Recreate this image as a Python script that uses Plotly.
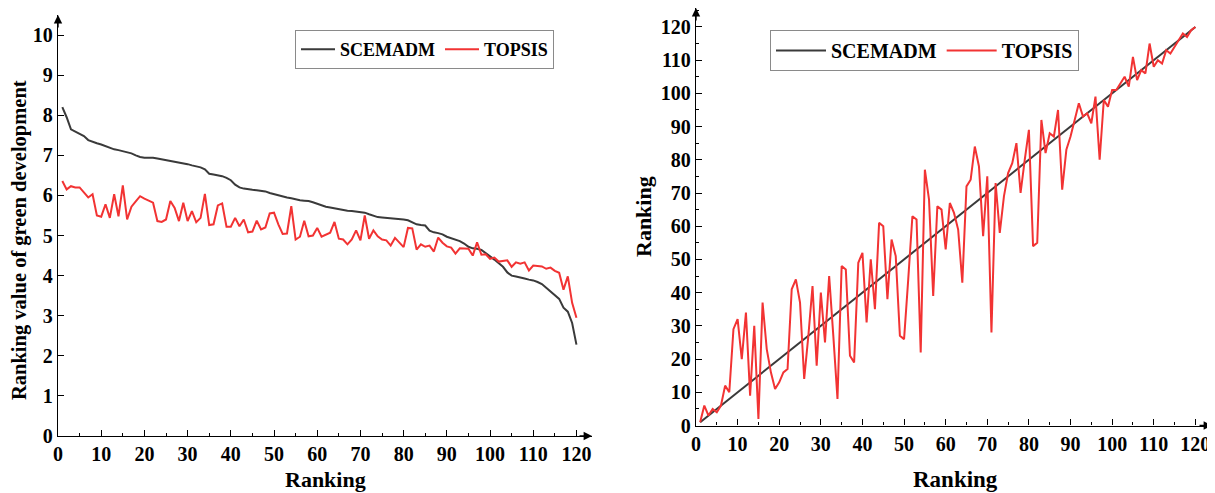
import plotly.graph_objects as go

rank = list(range(1, 121))

scemadm_value = [8.2, 7.95, 7.65, 7.6, 7.55, 7.48, 7.38, 7.33, 7.3, 7.27,
                 7.23, 7.18, 7.15, 7.13, 7.1, 7.08, 7.05, 7.0, 6.96, 6.94,
                 6.94, 6.94, 6.92, 6.9, 6.89, 6.87, 6.85, 6.83, 6.8, 6.78,
                 6.75, 6.72, 6.7, 6.65, 6.54, 6.52, 6.5, 6.48, 6.44, 6.38,
                 6.27, 6.2, 6.17, 6.15, 6.14, 6.13, 6.12, 6.1, 6.06, 6.03,
                 6.0, 5.98, 5.95, 5.93, 5.9, 5.88, 5.87, 5.86, 5.83, 5.79,
                 5.75, 5.72, 5.7, 5.68, 5.65, 5.64, 5.62, 5.61, 5.6, 5.58,
                 5.57, 5.53, 5.49, 5.46, 5.45, 5.44, 5.44, 5.43, 5.42, 5.4,
                 5.38, 5.33, 5.28, 5.26, 5.25, 5.12, 5.08, 5.06, 5.03, 4.97,
                 4.93, 4.9, 4.86, 4.8, 4.72, 4.68, 4.67, 4.64, 4.57, 4.48,
                 4.4, 4.32, 4.22, 4.08, 4.0, 3.98, 3.96, 3.93, 3.9, 3.88,
                 3.84, 3.79, 3.7, 3.6, 3.5, 3.42, 3.2, 3.1, 2.82, 2.28]

topsis_value = [6.36, 6.15, 6.23, 6.2, 6.2, 6.07, 5.95, 6.03, 5.5, 5.47,
                5.78, 5.44, 6.03, 5.48, 6.25, 5.4, 5.72, 5.85, 5.98, 5.92,
                5.87, 5.82, 5.36, 5.34, 5.4, 5.86, 5.69, 5.36, 5.82, 5.36,
                5.61, 5.33, 5.44, 6.04, 5.26, 5.28, 5.75, 5.8, 5.22, 5.22,
                5.44, 5.23, 5.4, 5.08, 5.1, 5.37, 5.15, 5.2, 5.55, 5.57,
                5.28, 5.04, 5.05, 5.73, 4.9, 4.97, 5.37, 4.98, 5.0, 5.19,
                4.97, 5.02, 5.07, 5.34, 4.92, 4.9, 4.78, 4.9, 5.13, 4.88,
                5.5, 4.92, 5.13, 4.98, 4.9, 4.88, 4.75, 4.94, 4.82, 4.71,
                5.19, 5.18, 4.65, 4.78, 4.72, 4.75, 4.6, 4.95, 4.82, 4.73,
                4.7, 4.55, 4.68, 4.67, 4.67, 4.5, 4.83, 4.52, 4.53, 4.42,
                4.45, 4.35, 4.37, 4.38, 4.22, 4.33, 4.3, 4.33, 4.13, 4.25,
                4.24, 4.23, 4.17, 4.2, 4.12, 4.07, 3.65, 3.98, 3.32, 2.95]

scemadm_rank = list(range(1, 121))

topsis_rank = [1, 6, 3, 5, 4, 6, 12, 10, 29, 32,
               20, 34, 9, 30, 2, 37, 23, 16, 11, 13,
               16, 17, 41, 44, 37, 14, 27, 42, 18, 40,
               25, 45, 27, 8, 48, 47, 21, 19, 49, 52,
               31, 50, 35, 61, 60, 38, 56, 51, 27, 26,
               44, 63, 62, 22, 77, 68, 39, 66, 65, 53,
               67, 64, 59, 43, 72, 74, 84, 78, 57, 75,
               28, 73, 58, 69, 76, 79, 85, 70, 80, 89,
               54, 55, 92, 82, 88, 87, 95, 71, 83, 87,
               92, 97, 93, 94, 91, 99, 80, 98, 96, 101,
               101, 103, 105, 102, 111, 104, 107, 106, 115, 108,
               110, 109, 113, 112, 114, 116, 118, 117, 119, 120]

FONT = "Liberation Serif"
BLACK_LINE = "#3a3a3a"
RED_LINE = "#f23333"

fig = go.Figure()

fig.add_trace(go.Scatter(x=rank, y=scemadm_value, mode="lines", name="SCEMADM",
                         line=dict(color=BLACK_LINE, width=2), xaxis="x", yaxis="y",
                         legend="legend"))
fig.add_trace(go.Scatter(x=rank, y=topsis_value, mode="lines", name="TOPSIS",
                         line=dict(color=RED_LINE, width=2), xaxis="x", yaxis="y",
                         legend="legend"))
fig.add_trace(go.Scatter(x=rank, y=scemadm_rank, mode="lines", name="SCEMADM",
                         line=dict(color=BLACK_LINE, width=2), xaxis="x2", yaxis="y2",
                         legend="legend2"))
fig.add_trace(go.Scatter(x=rank, y=topsis_rank, mode="lines", name="TOPSIS",
                         line=dict(color=RED_LINE, width=2), xaxis="x2", yaxis="y2",
                         legend="legend2"))

tickfont = dict(family=FONT, size=20, color="black", weight="bold")
axis_common = dict(showline=True, linecolor="black", linewidth=1.4, ticks="inside",
                   ticklen=6, tickwidth=1.4, tickcolor="black", showgrid=False,
                   zeroline=False, tickfont=tickfont, automargin=False)

# the page body has an 8px margin: figure occupies page pixels 8..1215 x 8..493
W, H = 1207, 485
def px_x(p):
    return min(1.0, max(0.0, (p - 8) / W))
def px_y(p):
    return min(1.0, max(0.0, (493 - p) / H))

minor5 = dict(ticks="inside", ticklen=3, dtick=5, tickcolor="black", tickwidth=1.2)

fig.update_layout(
    width=W, height=H, autosize=False,
    margin=dict(l=0, r=0, t=0, b=0),
    paper_bgcolor="white", plot_bgcolor="white",
    xaxis=dict(domain=[px_x(58), px_x(592)], range=[0, 123.6], dtick=10, tick0=0,
               anchor="y", minor=minor5, **axis_common),
    yaxis=dict(domain=[px_y(436), px_y(15)], range=[0, 10.5], dtick=1, tick0=0,
               anchor="x", **axis_common),
    xaxis2=dict(domain=[px_x(696), px_x(1212)], range=[0, 124], dtick=10, tick0=0,
                anchor="y2", minor=minor5, **axis_common),
    yaxis2=dict(domain=[px_y(425.5), px_y(8)], range=[0, 125.7], dtick=10, tick0=0,
                anchor="x2", minor=minor5, **axis_common),
    legend=dict(x=px_x(295), y=px_y(30), xanchor="left", yanchor="top", orientation="h",
                bordercolor="#8a8a8a", borderwidth=1, bgcolor="white",
                font=dict(family=FONT, size=18, color="black", weight="bold"),
                tracegroupgap=0, itemwidth=34),
    legend2=dict(x=px_x(770), y=px_y(30), xanchor="left", yanchor="top", orientation="h",
                 bordercolor="#8a8a8a", borderwidth=1, bgcolor="white",
                 font=dict(family=FONT, size=20, color="black", weight="bold"),
                 tracegroupgap=0, itemwidth=50),
    showlegend=True,
)

title_font = dict(family=FONT, size=22, color="black", weight="bold")
def title(text, x, y, size, angle=0):
    return dict(text=text, x=px_x(x), y=px_y(y), xref="paper", yref="paper",
                xanchor="center", yanchor="middle", showarrow=False, textangle=angle,
                font=dict(title_font, size=size))

annotations = [
    title("Ranking value of green development", 20, 240, 20.5, -90),
    title("Ranking", 325, 479, 22),
    title("Ranking", 643, 217, 22, -90),
    title("Ranking", 955, 479, 23),
]
for xr, yr in [("x domain", "y domain"), ("x2 domain", "y2 domain")]:
    annotations.append(dict(text="", x=1, y=0, xref=xr, yref=yr, ax=-14, ay=0,
                            showarrow=True, arrowhead=2, arrowsize=1.2, arrowwidth=1.4,
                            arrowcolor="black"))
    annotations.append(dict(text="", x=0, y=1, xref=xr, yref=yr, ax=0, ay=14,
                            showarrow=True, arrowhead=2, arrowsize=1.2, arrowwidth=1.4,
                            arrowcolor="black"))
fig.update_layout(annotations=annotations)

fig.write_html("out.html")
